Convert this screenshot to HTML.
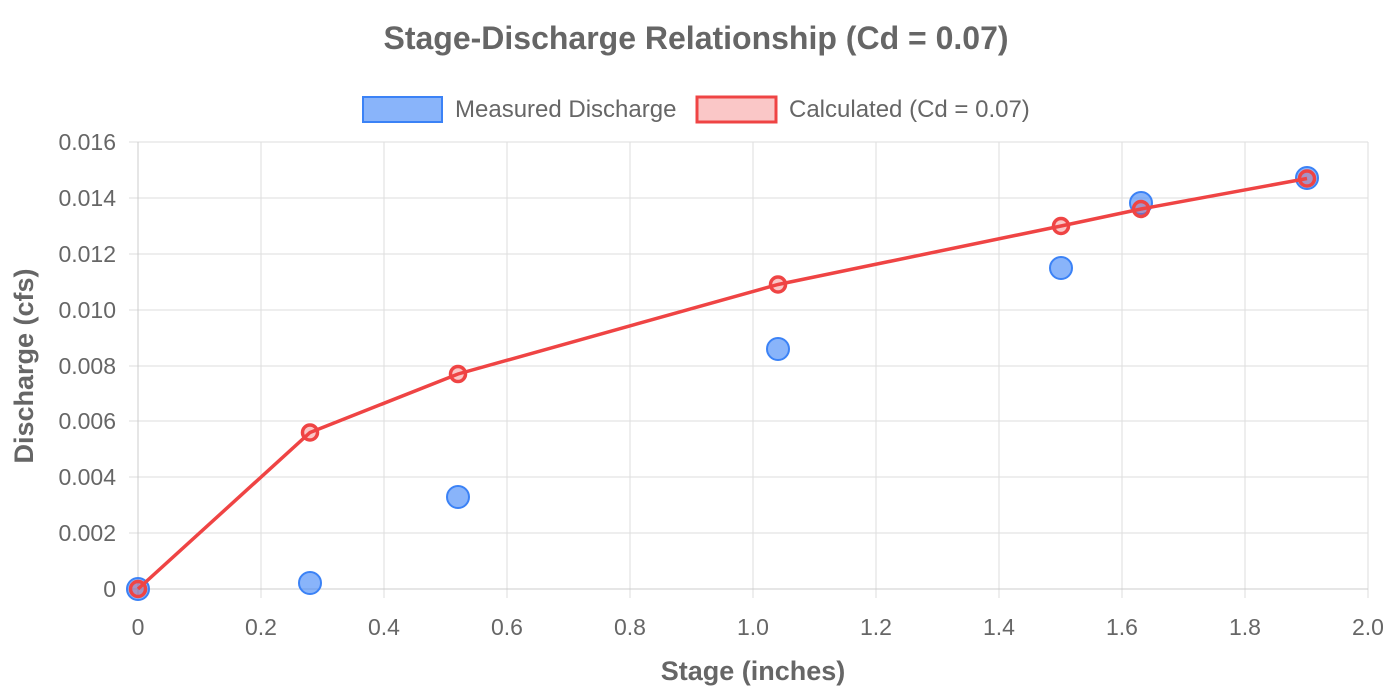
<!DOCTYPE html>
<html><head><style>body{margin:0;background:#fff}svg{display:block}text{font-family:"Liberation Sans",sans-serif;fill:#666}</style></head>
<body>
<svg width="1392" height="696" xmlns="http://www.w3.org/2000/svg">
<text x="696" y="49" font-size="32" font-weight="bold" text-anchor="middle">Stage-Discharge Relationship (Cd = 0.07)</text>
<rect x="363" y="97" width="79" height="25" fill="rgba(59,130,246,0.6)" stroke="#3b82f6" stroke-width="2"/>
<text x="455" y="117" font-size="24">Measured Discharge</text>
<rect x="697" y="97" width="79" height="25" fill="rgba(239,68,68,0.3)" stroke="#ef4444" stroke-width="3"/>
<text x="789" y="117" font-size="24">Calculated (Cd = 0.07)</text>
<g stroke="#dedede" stroke-width="1">
<line x1="138" y1="142" x2="1368" y2="142"/><line x1="138" y1="198" x2="1368" y2="198"/><line x1="138" y1="254" x2="1368" y2="254"/><line x1="138" y1="310" x2="1368" y2="310"/><line x1="138" y1="366" x2="1368" y2="366"/><line x1="138" y1="421" x2="1368" y2="421"/><line x1="138" y1="477" x2="1368" y2="477"/><line x1="138" y1="533" x2="1368" y2="533"/>
<line x1="261" y1="142" x2="261" y2="598"/><line x1="384" y1="142" x2="384" y2="598"/><line x1="507" y1="142" x2="507" y2="598"/><line x1="630" y1="142" x2="630" y2="598"/><line x1="753" y1="142" x2="753" y2="598"/><line x1="876" y1="142" x2="876" y2="598"/><line x1="999" y1="142" x2="999" y2="598"/><line x1="1122" y1="142" x2="1122" y2="598"/><line x1="1245" y1="142" x2="1245" y2="598"/><line x1="1368" y1="142" x2="1368" y2="598"/>
<line x1="129" y1="142" x2="138" y2="142"/><line x1="129" y1="198" x2="138" y2="198"/><line x1="129" y1="254" x2="138" y2="254"/><line x1="129" y1="310" x2="138" y2="310"/><line x1="129" y1="366" x2="138" y2="366"/><line x1="129" y1="421" x2="138" y2="421"/><line x1="129" y1="477" x2="138" y2="477"/><line x1="129" y1="533" x2="138" y2="533"/>
</g>
<line x1="138" y1="142" x2="138" y2="598" stroke="#ccc"/>
<line x1="129" y1="589" x2="1368" y2="589" stroke="#ccc"/>
<g font-size="23" text-anchor="end">
<text x="116" y="150">0.016</text><text x="116" y="206">0.014</text><text x="116" y="262">0.012</text><text x="116" y="318">0.010</text><text x="116" y="374">0.008</text><text x="116" y="429">0.006</text><text x="116" y="485">0.004</text><text x="116" y="541">0.002</text><text x="116" y="597">0</text>
</g>
<g font-size="23" text-anchor="middle">
<text x="138" y="635">0</text><text x="261" y="635">0.2</text><text x="384" y="635">0.4</text><text x="507" y="635">0.6</text><text x="630" y="635">0.8</text><text x="753" y="635">1.0</text><text x="876" y="635">1.2</text><text x="999" y="635">1.4</text><text x="1122" y="635">1.6</text><text x="1245" y="635">1.8</text><text x="1368" y="635">2.0</text>
</g>
<text x="753" y="680" font-size="27" font-weight="bold" text-anchor="middle">Stage (inches)</text>
<text transform="translate(33,366) rotate(-90)" font-size="27" font-weight="bold" text-anchor="middle">Discharge (cfs)</text>
<g fill="rgba(59,130,246,0.6)" stroke="#3b82f6" stroke-width="2">
<circle cx="138" cy="589" r="11"/><circle cx="310" cy="583" r="11"/><circle cx="458" cy="497" r="11"/><circle cx="778" cy="349" r="11"/><circle cx="1061" cy="268" r="11"/><circle cx="1141" cy="203" r="11"/><circle cx="1307" cy="178" r="11"/>
</g>
<polyline points="138,589 310,432.5 458,374 778,284.5 1061,226 1141,209 1307,178.5" fill="none" stroke="#ef4444" stroke-width="3.5"/>
<g fill="rgba(239,68,68,0.3)" stroke="#ef4444" stroke-width="3.5">
<circle cx="138" cy="589" r="7.5"/><circle cx="310" cy="432.5" r="7.5"/><circle cx="458" cy="374" r="7.5"/><circle cx="778" cy="284.5" r="7.5"/><circle cx="1061" cy="226" r="7.5"/><circle cx="1141" cy="209" r="7.5"/><circle cx="1307" cy="178.5" r="7.5"/>
</g>
</svg>
</body></html>
